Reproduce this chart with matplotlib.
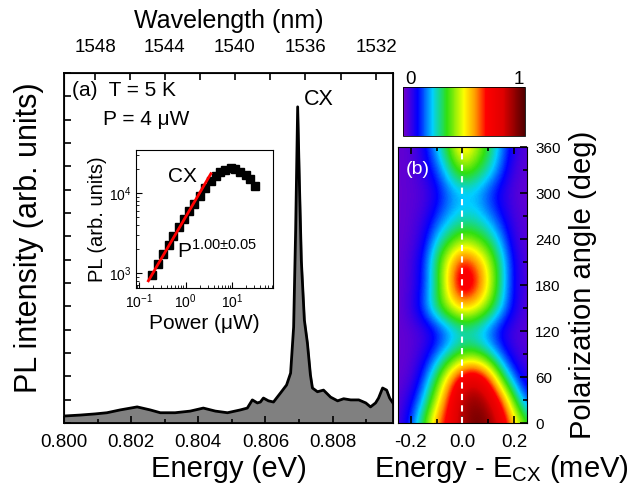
import matplotlib
matplotlib.use("Agg")
import matplotlib.pyplot as plt
import numpy as np
from matplotlib.colors import LinearSegmentedColormap
from matplotlib.ticker import MultipleLocator, NullFormatter

plt.rcParams['font.family'] = ['Liberation Sans', 'DejaVu Sans']
plt.rcParams['mathtext.fontset'] = 'custom'
plt.rcParams['mathtext.rm'] = 'Liberation Sans'
plt.rcParams['axes.unicode_minus'] = False

# PL spectrum (a)
energy = [0.80000, 0.80048, 0.80093, 0.80128, 0.80167, 0.80218, 0.80257, 0.80287,
          0.80331, 0.80376, 0.80415, 0.80451, 0.80487, 0.80525, 0.80546, 0.80561,
          0.80576, 0.80585, 0.80594, 0.80609, 0.80624, 0.80645, 0.80663, 0.80675,
          0.80684, 0.80690, 0.80696, 0.80701, 0.80707, 0.80716, 0.80725, 0.80734,
          0.80740, 0.80755, 0.80773, 0.80794, 0.80815, 0.80833, 0.80854, 0.80878,
          0.80899, 0.80913, 0.80928, 0.80937, 0.80949, 0.80961, 0.80970, 0.80982]
intensity = [30, 34, 39, 44, 56, 69, 56, 44,
             44, 51, 64, 51, 44, 56, 64, 99,
             86, 90, 107, 95, 90, 129, 163, 214,
             411, 826, 1355, 1041, 694, 441, 343, 206,
             150, 134, 141, 111, 95, 104, 99, 99,
             86, 69, 86, 107, 150, 141, 107, 81]

wl_major = [1548, 1544, 1540, 1536, 1532]
wl_minor = [1546, 1542, 1538, 1534]

# inset: power dependence
power = [0.19, 0.26, 0.33, 0.44, 0.55, 0.72, 0.93, 1.20, 1.51, 2.00,
         2.63, 3.47, 4.47, 5.62, 7.08, 9.33, 11.5, 14.8, 19.5, 24.5, 30.2]
pl_cx = [955, 1290, 1740, 2240, 2880, 3720, 4680, 5890, 7410, 9330,
         11500, 14100, 16200, 18200, 19500, 20400, 20000, 18600, 17000, 14800, 12300]
fit_power = [0.16, 3.5]
fit_pl = [800, 17500]

# polarization map (b)
e_rel = [-0.25, -0.2, -0.15, -0.1, -0.05, 0.0, 0.05, 0.1, 0.15, 0.2, 0.25]
angle = [0, 30, 60, 90, 120, 150, 180, 210, 240, 270, 300, 330, 360]
pl_map = [
    [0.04, 0.16, 0.36, 0.60, 0.75, 0.89, 0.97, 0.93, 0.80, 0.54, 0.36],
    [0.03, 0.10, 0.24, 0.46, 0.70, 0.89, 0.93, 0.86, 0.64, 0.36, 0.145],
    [0.02, 0.04, 0.16, 0.34, 0.57, 0.75, 0.80, 0.64, 0.36, 0.16, 0.065],
    [0.02, 0.03, 0.08, 0.18, 0.28, 0.36, 0.36, 0.28, 0.16, 0.065, 0.035],
    [0.02, 0.03, 0.05, 0.10, 0.18, 0.24, 0.22, 0.16, 0.08, 0.04, 0.03],
    [0.02, 0.065, 0.18, 0.34, 0.46, 0.54, 0.50, 0.39, 0.24, 0.10, 0.035],
    [0.02, 0.05, 0.145, 0.32, 0.57, 0.80, 0.70, 0.50, 0.28, 0.10, 0.04],
    [0.02, 0.05, 0.145, 0.34, 0.54, 0.70, 0.62, 0.46, 0.28, 0.10, 0.035],
    [0.02, 0.035, 0.10, 0.24, 0.34, 0.41, 0.38, 0.32, 0.20, 0.065, 0.03],
    [0.02, 0.03, 0.065, 0.145, 0.22, 0.26, 0.26, 0.20, 0.12, 0.05, 0.03],
    [0.02, 0.03, 0.04, 0.10, 0.18, 0.22, 0.21, 0.145, 0.08, 0.035, 0.02],
    [0.02, 0.03, 0.08, 0.16, 0.30, 0.41, 0.36, 0.28, 0.16, 0.05, 0.03],
    [0.02, 0.035, 0.10, 0.24, 0.39, 0.57, 0.46, 0.34, 0.20, 0.08, 0.03],
]

rainbow = LinearSegmentedColormap.from_list("pl", [
    (0.0, "#7800c8"), (0.12, "#0000ff"), (0.24, "#00d0ff"), (0.36, "#30e010"),
    (0.5, "#ffff00"), (0.6, "#ff9000"), (0.68, "#ff0000"), (0.82, "#e00000"),
    (1.0, "#500000")])

fig = plt.figure(figsize=(6.38, 4.87), dpi=100)

# ---- panel (a)
ax = fig.add_axes([0.1003, 0.1314, 0.5157, 0.7187])
ax.fill_between(energy, intensity, 0, color='#808080')
ax.plot(energy, intensity, color='black', lw=2)
ax.set_xlim(0.800, 0.8098)
ax.set_ylim(0, 1500)
ax.xaxis.set_major_locator(MultipleLocator(0.002))
ax.xaxis.set_minor_locator(MultipleLocator(0.001))
ax.xaxis.set_major_formatter(plt.FormatStrFormatter('%.3f'))
ax.yaxis.set_major_locator(MultipleLocator(100))
ax.yaxis.set_major_formatter(NullFormatter())
ax.tick_params(which='both', direction='in', labelsize=13.5, width=1.2)
ax.tick_params(which='major', length=5, pad=8)
ax.tick_params(which='minor', length=3)
ax.set_xlabel("Energy (eV)", fontsize=21, labelpad=3)
ax.set_ylabel("PL intensity (arb. units)", fontsize=22)
ax.yaxis.set_label_coords(-0.06, 0.53)
for s in ax.spines.values():
    s.set_linewidth(1.3)

top = ax.twiny()
top.set_xlim(ax.get_xlim())
top.set_xticks([1239.84 / w for w in wl_major])
top.set_xticklabels([str(w) for w in wl_major])
top.set_xticks([1239.84 / w for w in wl_minor], minor=True)
top.tick_params(which='both', direction='in', labelsize=13.5, width=1.2, length=5, pad=12)
top.set_xlabel("Wavelength (nm)", fontsize=18, labelpad=8)

ax.text(0.025, 0.95, "(a)  T = 5 K", transform=ax.transAxes, fontsize=15, va='center')
ax.text(0.12, 0.868, "P = 4 μW", transform=ax.transAxes, fontsize=15, va='center')
ax.text(0.80716, 1340, "CX", fontsize=15.5, va='bottom', ha='left')

# ---- inset
ins = fig.add_axes([0.2132, 0.4086, 0.2147, 0.2834])
ins.set_xscale('log')
ins.set_yscale('log')
ins.plot(power, pl_cx, 's', color='black', ms=5.5)
ins.plot(fit_power, fit_pl, color='red', lw=2)
ins.set_xlim(0.087, 75)
ins.set_ylim(650, 34600)
ins.tick_params(which='both', direction='in', labelsize=10)
ins.tick_params(which='major', length=4)
ins.tick_params(which='minor', length=2)
ins.set_xlabel("Power (μW)", fontsize=15, labelpad=2)
ins.set_ylabel("PL (arb. units)", fontsize=14.5, labelpad=1)
ins.text(0.34, 0.81, "CX", transform=ins.transAxes, fontsize=15, va='center', ha='center')
ins.text(0.30, 0.27, r"P$^{\mathregular{1.00±0.05}}$", transform=ins.transAxes,
         fontsize=15, va='center')

# ---- panel (b)
axm = fig.add_axes([0.6238, 0.1314, 0.2022, 0.5667])
de = (e_rel[1] - e_rel[0]) / 2
da = (angle[1] - angle[0]) / 2
img = axm.imshow(np.array(pl_map), cmap=rainbow, vmin=0, vmax=1, origin='lower',
                 aspect='auto', interpolation='bicubic',
                 extent=[e_rel[0] - de, e_rel[-1] + de, angle[0] - da, angle[-1] + da])
axm.axvline(0, color='white', ls=(0, (3, 2.5)), lw=1.5)
axm.set_xlim(-0.25, 0.25)
axm.set_ylim(0, 360)
axm.xaxis.set_major_locator(MultipleLocator(0.2))
axm.xaxis.set_minor_locator(MultipleLocator(0.1))
axm.xaxis.set_major_formatter(plt.FormatStrFormatter('%.1f'))
axm.yaxis.set_major_locator(MultipleLocator(60))
axm.yaxis.set_minor_locator(MultipleLocator(30))
axm.yaxis.tick_right()
axm.yaxis.set_label_position('right')
axm.tick_params(which='both', direction='in', top=True, bottom=True, left=False,
                right=True, width=1.2)
axm.tick_params(axis='x', labelsize=13.5, pad=8)
axm.tick_params(axis='y', labelsize=11, pad=6)
axm.tick_params(which='major', length=5)
axm.tick_params(which='minor', length=3)
axm.set_xlabel(r"Energy - E$_{\mathregular{CX}}$ (meV)", fontsize=21)
axm.xaxis.set_label_coords(0.80, -0.108)
axm.set_ylabel("Polarization angle (deg)", fontsize=21, labelpad=6)
axm.text(0.06, 0.92, "(b)", transform=axm.transAxes, color='white', fontsize=14, va='center')

cax = fig.add_axes([0.6317, 0.7207, 0.1912, 0.1006])
cb = fig.colorbar(img, cax=cax, orientation='horizontal')
cb.set_ticks([])
cb.outline.set_linewidth(0.6)
cax.text(0.065, 1.15, "0", transform=cax.transAxes, fontsize=13.5, ha='center', va='center')
cax.text(0.95, 1.15, "1", transform=cax.transAxes, fontsize=13.5, ha='center', va='center')

fig.savefig("out.png", dpi=100)
